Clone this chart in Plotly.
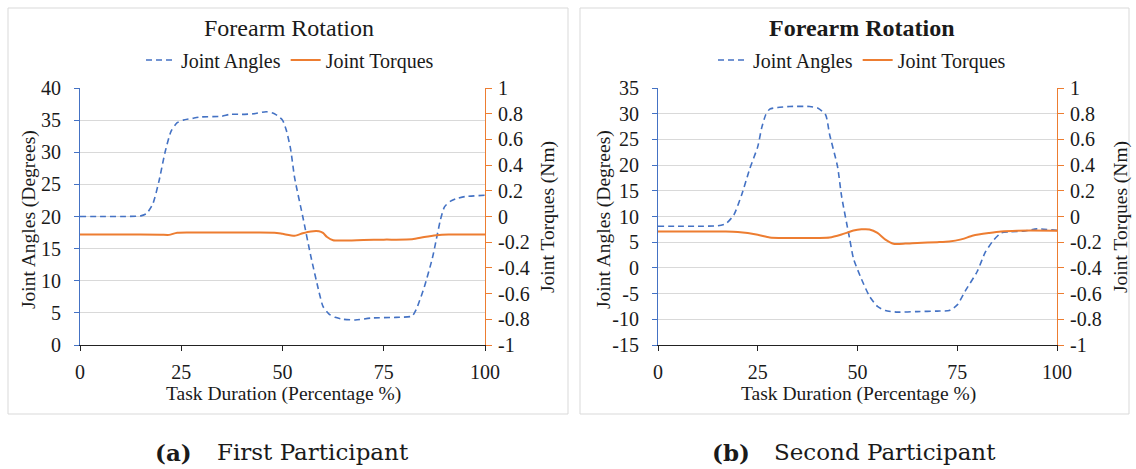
import plotly.graph_objects as go

# ---------------- data ----------------
# Panel (a) First Participant
a_ang_x = [0, 5, 10, 15, 16.5, 18, 19.5, 21, 22.5, 24, 25.5, 28, 30, 35, 37, 40, 43, 46, 48, 50, 51, 52, 53, 55, 57, 59, 60, 61.5, 63, 65, 68, 72, 78, 82, 83, 85, 87, 88, 89, 90, 91.5, 93, 95, 100]
a_ang_y = [20.0, 20.0, 20.0, 20.1, 20.5, 22.0, 25.5, 30.0, 33.3, 34.6, 35.0, 35.3, 35.5, 35.6, 35.9, 35.9, 36.0, 36.3, 36.0, 35.0, 33.3, 30.5, 26.0, 20.0, 13.8, 8.3, 6.0, 4.8, 4.3, 4.0, 3.9, 4.2, 4.3, 4.5, 5.5, 9.0, 13.5, 16.5, 19.5, 21.5, 22.4, 22.8, 23.1, 23.3]
a_trq_x = [0, 10, 20, 22, 24, 30, 40, 48, 50, 53, 55, 57, 59, 60, 61, 62.5, 65, 70, 75, 82, 85, 88, 91, 100]
a_trq_y = [-0.14, -0.14, -0.142, -0.143, -0.126, -0.125, -0.125, -0.126, -0.135, -0.15, -0.13, -0.116, -0.115, -0.128, -0.16, -0.185, -0.187, -0.183, -0.18, -0.178, -0.16, -0.146, -0.14, -0.14]

# Panel (b) Second Participant
b_ang_x = [0, 5, 10, 15, 17, 19, 21, 23, 25, 26, 27, 28, 30, 33, 38, 40, 42, 43, 45, 46, 48, 49, 51, 53, 55, 57, 60, 65, 70, 73, 75, 77, 80, 82, 84, 86, 88, 92, 95, 100]
b_ang_y = [8.1, 8.1, 8.1, 8.2, 8.6, 10.3, 14.3, 19.3, 23.6, 27.3, 29.8, 30.9, 31.2, 31.4, 31.4, 31.1, 29.8, 26.0, 19.7, 14.0, 5.8, 1.8, -2.2, -5.5, -7.5, -8.3, -8.6, -8.5, -8.4, -8.3, -7.2, -4.5, -0.7, 3.0, 5.3, 6.8, 7.0, 7.2, 7.6, 7.3]
b_trq_x = [0, 10, 17, 20, 25, 28, 32, 40, 43, 46, 49, 51, 53, 55, 57, 59, 62, 65, 70, 73, 76, 79, 83, 86, 90, 100]
b_trq_y = [-0.116, -0.116, -0.117, -0.121, -0.142, -0.163, -0.167, -0.167, -0.164, -0.14, -0.109, -0.1, -0.101, -0.128, -0.18, -0.212, -0.211, -0.206, -0.2, -0.195, -0.178, -0.148, -0.128, -0.116, -0.11, -0.11]

x_ticks = [0, 25, 50, 75, 100]
a_left_ticks = [0, 5, 10, 15, 20, 25, 30, 35, 40]
a_left_text = ["0", "5", "10", "15", "20", "25", "30", "35", "40"]
b_left_ticks = [-15, -10, -5, 0, 5, 10, 15, 20, 25, 30, 35]
b_left_text = ["-15", "-10", "-5", "0", "5", "10", "15", "20", "25", "30", "35"]
right_tickvals = [-1, -0.8, -0.6, -0.4, -0.2, 0, 0.2, 0.4, 0.6, 0.8, 1]
right_ticktext = ["-1", "-0.8", "-0.6", "-0.4", "-0.2", "0", "0.2", "0.4", "0.6", "0.8", "1"]

titles = ["Forearm Rotation", "<b>Forearm Rotation</b>"]
caption_tags = ["(a)", "(b)"]
caption_texts = ["First Participant", "Second Participant"]

# ---------------- style ----------------
BLUE = "#4472C4"
ORANGE = "#ED7D31"
GRID = "#D9D9D9"
TXT = "#1a1a1a"
FONT = "Liberation Serif"
CAPFONT = "DejaVu Serif"
W, H = 1136, 469

def px(x):
    return x / W

def py(y):
    return 1 - y / H

fig = go.Figure()

dash = "6px,4px"
fig.add_trace(go.Scatter(x=a_ang_x, y=a_ang_y, mode="lines", name="Joint Angles",
                         line=dict(color=BLUE, width=1.6, dash=dash, shape="spline", smoothing=0.6),
                         xaxis="x", yaxis="y", legend="legend"))
fig.add_trace(go.Scatter(x=a_trq_x, y=a_trq_y, mode="lines", name="Joint Torques",
                         line=dict(color=ORANGE, width=2, shape="spline", smoothing=0.6),
                         xaxis="x", yaxis="y2", legend="legend"))
fig.add_trace(go.Scatter(x=b_ang_x, y=b_ang_y, mode="lines", name="Joint Angles",
                         line=dict(color=BLUE, width=1.6, dash=dash, shape="spline", smoothing=0.6),
                         xaxis="x2", yaxis="y3", legend="legend2"))
fig.add_trace(go.Scatter(x=b_trq_x, y=b_trq_y, mode="lines", name="Joint Torques",
                         line=dict(color=ORANGE, width=2, shape="spline", smoothing=0.6),
                         xaxis="x2", yaxis="y4", legend="legend2"))

ydom = [py(345), py(88)]
FS = 20
TS = 19.5
tickfont = dict(family=FONT, size=FS, color=TXT)

def xax(domain, anchor):
    return dict(domain=domain, anchor=anchor, range=[0, 100], tickvals=x_ticks,
                showline=True, linecolor="#222", linewidth=1, ticks="outside", ticklen=5,
                tickcolor="#222", showgrid=False, zeroline=False, tickfont=tickfont,
                automargin=False, ticklabelstandoff=4, fixedrange=True)

def yleft(anchor, rng, ticks, text):
    return dict(domain=ydom, anchor=anchor, range=rng, tickvals=ticks, ticktext=text,
                showline=True, linecolor=BLUE, linewidth=1, ticks="outside", ticklen=5,
                tickcolor=BLUE, showgrid=True, gridcolor=GRID, gridwidth=1, zeroline=False,
                tickfont=tickfont, automargin=False, ticklabelstandoff=9, fixedrange=True)

def yright(anchor, overlay, so):
    return dict(domain=ydom, anchor=anchor, overlaying=overlay, side="right", range=[-1, 1],
                tickvals=right_tickvals, ticktext=right_ticktext,
                showline=True, linecolor=ORANGE, linewidth=1, ticks="outside", ticklen=6,
                tickcolor=ORANGE, showgrid=False, zeroline=False, tickfont=tickfont,
                automargin=False, ticklabelstandoff=so, fixedrange=True)

legfont = dict(family=FONT, size=FS, color=TXT)
fig.update_layout(
    width=W, height=H,
    margin=dict(l=0, r=0, t=0, b=0),
    paper_bgcolor="white", plot_bgcolor="white",
    font=dict(family=FONT, size=FS, color=TXT),
    xaxis=xax([px(80), px(485)], "y"),
    yaxis=yleft("x", [0, 40], a_left_ticks, a_left_text),
    yaxis2=yright("x", "y", 2),
    xaxis2=xax([px(658), px(1057)], "y3"),
    yaxis3=yleft("x2", [-15, 35], b_left_ticks, b_left_text),
    yaxis4=yright("x2", "y3", 2),
    legend=dict(orientation="h", x=px(290), y=py(60), xanchor="center", yanchor="middle",
                font=legfont, bgcolor="rgba(0,0,0,0)", itemwidth=30, tracegroupgap=0),
    legend2=dict(orientation="h", x=px(862), y=py(60), xanchor="center", yanchor="middle",
                 font=legfont, bgcolor="rgba(0,0,0,0)", itemwidth=30, tracegroupgap=0),
    showlegend=True,
)

# panel borders
for x0, x1 in [(8, 568), (580, 1129)]:
    fig.add_shape(type="rect", xref="paper", yref="paper", x0=px(x0), x1=px(x1), y0=py(414), y1=py(8),
                  line=dict(color="#D9D9D9", width=1), layer="below")

ann = []
# titles
for cx, t in [(289, titles[0]), (862, titles[1])]:
    ann.append(dict(text=t, x=px(cx), y=py(28), xref="paper", yref="paper", showarrow=False,
                    xanchor="center", yanchor="middle", font=dict(family=FONT, size=24, color=TXT)))
# x titles
for cx in [283, 858]:
    ann.append(dict(text="Task Duration (Percentage %)", x=px(cx), y=py(394), xref="paper", yref="paper",
                    showarrow=False, xanchor="center", yanchor="middle", font=dict(family=FONT, size=TS, color=TXT)))
# left y titles
for cx in [29, 604]:
    ann.append(dict(text="Joint Angles (Degrees)", x=px(cx), y=py(220), xref="paper", yref="paper",
                    showarrow=False, textangle=-90, xanchor="center", yanchor="middle",
                    font=dict(family=FONT, size=TS, color=TXT)))
# right y titles
for cx in [548, 1121]:
    ann.append(dict(text="Joint Torques (Nm)", x=px(cx), y=py(217), xref="paper", yref="paper",
                    showarrow=False, textangle=-90, xanchor="center", yanchor="middle",
                    font=dict(family=FONT, size=TS, color=TXT)))
# captions
for rx, lx, tag, txt in [(194, 215, caption_tags[0], caption_texts[0]), (752, 772, caption_tags[1], caption_texts[1])]:
    ann.append(dict(text="<b>" + tag + "</b>", x=px(rx), y=py(452), xref="paper", yref="paper", showarrow=False,
                    xanchor="right", yanchor="middle", font=dict(family=CAPFONT, size=23, color=TXT)))
    ann.append(dict(text=txt, x=px(lx), y=py(452), xref="paper", yref="paper", showarrow=False,
                    xanchor="left", yanchor="middle", font=dict(family=CAPFONT, size=23, color=TXT)))
fig.update_layout(annotations=ann)

fig.write_html("out.html", config={"displayModeBar": False},
               post_script="document.body.style.margin='0';document.body.style.overflow='hidden';")
